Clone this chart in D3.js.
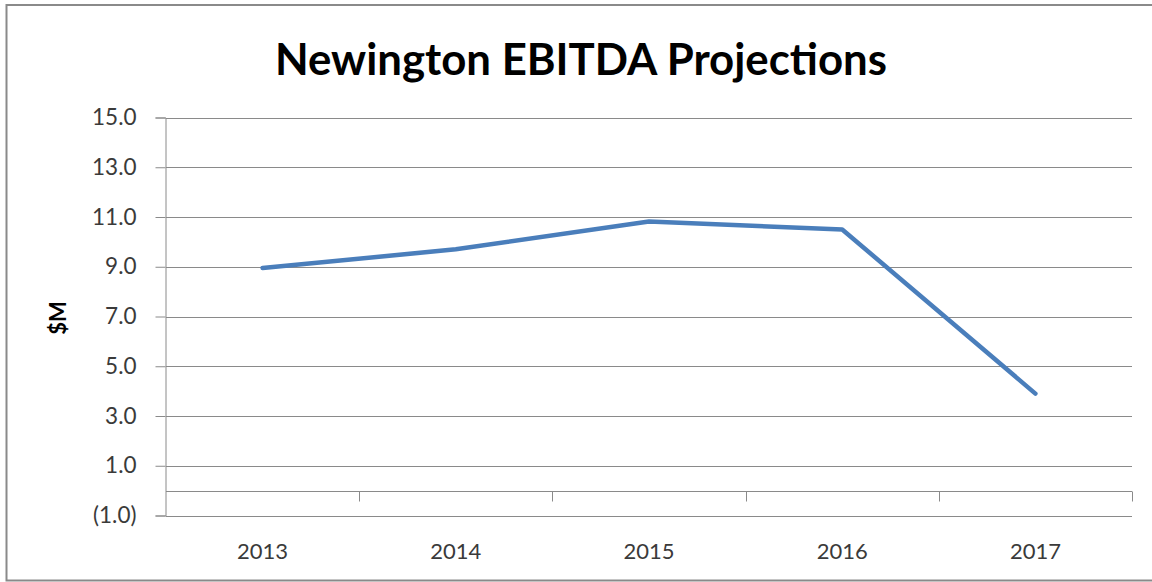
<!DOCTYPE html>
<meta charset="utf-8">
<script src="https://d3js.org/d3.v7.min.js"></script>
<style>
  body { margin: 0; background: #fff; }
  svg { display: block; }
</style>
<div id="chart"></div>
<script>

// data
var years = ["2013", "2014", "2015", "2016", "2017"];
var ebitda = [8.95, 9.7, 10.82, 10.5, 3.9];
var yTicks = [-1, 1, 3, 5, 7, 9, 11, 13, 15];
var title = "Newington EBITDA Projections";
var yLabel = "$M";

var W = 1152, H = 582;
// plot box (note: "top" is taken by window.top, so prefixed names)
var plotLeft = 166, plotRight = 1132, plotTop = 117.5, plotBottom = 515.5;

var svg = d3.select("#chart").append("svg")
    .attr("width", W)
    .attr("height", H);

// outer frame of the chart object
svg.append("rect")
    .attr("x", 6.5).attr("y", 5)
    .attr("width", 1160).attr("height", 575.5)
    .attr("fill", "#fff")
    .attr("stroke", "#8a8a8a")
    .attr("stroke-width", 2);

var x = d3.scaleBand().domain(years).range([plotLeft, plotRight]).padding(0);
var y = d3.scaleLinear().domain([-1, 15]).range([plotBottom, plotTop]);

var fmt = function(d) {
  return d < 0 ? "(" + d3.format(".1f")(-d) + ")" : d3.format(".1f")(d);
};

// gridlines
svg.append("g")
  .selectAll("line")
  .data(yTicks)
  .enter().append("line")
    .attr("x1", plotLeft).attr("x2", plotRight)
    .attr("y1", function(d) { return Math.round(y(d)) + 0.5; })
    .attr("y2", function(d) { return Math.round(y(d)) + 0.5; })
    .attr("stroke", "#8a8a8a")
    .attr("stroke-width", 1);

// left axis
var yAxis = svg.append("g")
    .attr("transform", "translate(" + (plotLeft - 0.5) + ",0)")
    .call(d3.axisLeft(y).tickValues(yTicks).tickFormat(fmt).tickSize(10).tickPadding(19).offset(0.5));
yAxis.select(".domain").attr("stroke", "#8a8a8a");
yAxis.selectAll(".tick line").attr("stroke", "#8a8a8a");
yAxis.selectAll(".tick text")
    .style("font", "22.5px Lato")
    .attr("fill", "#3a3a3a");

// category axis sits on zero
var y0 = Math.round(y(0)) + 0.5;
svg.append("line")
    .attr("x1", plotLeft).attr("x2", plotRight)
    .attr("y1", y0).attr("y2", y0)
    .attr("stroke", "#8a8a8a");

svg.append("g")
  .selectAll("line")
  .data(years)
  .enter().append("line")
    .attr("x1", function(d) { return Math.round(x(d) + x.bandwidth()) + 0.5; })
    .attr("x2", function(d) { return Math.round(x(d) + x.bandwidth()) + 0.5; })
    .attr("y1", y0).attr("y2", y0 + 10)
    .attr("stroke", "#8a8a8a");

svg.append("g")
  .selectAll("text")
  .data(years)
  .enter().append("text")
    .attr("x", function(d) { return x(d) + x.bandwidth() / 2; })
    .attr("y", 559)
    .attr("text-anchor", "middle")
    .style("font", "22px Lato")
    .attr("fill", "#3a3a3a")
    .text(function(d) { return d; });

// the line
var line = d3.line()
    .x(function(d, i) { return x(years[i]) + x.bandwidth() / 2; })
    .y(function(d) { return y(d); });

svg.append("path")
    .datum(ebitda)
    .attr("d", line)
    .attr("fill", "none")
    .attr("stroke", "#4a7ebb")
    .attr("stroke-width", 4.5)
    .attr("stroke-linejoin", "round")
    .attr("stroke-linecap", "round");

// title, sized to the width it has in the picture
var t = svg.append("text")
    .attr("x", 581)
    .attr("y", 75)
    .attr("text-anchor", "middle")
    .style("font", "bold 40px Lato")
    .attr("fill", "#000")
    .text(title);
var tw = t.node().getComputedTextLength();
t.style("font-size", (40 * 612 / tw) + "px");

// y axis label
svg.append("text")
    .attr("transform", "translate(66,318) rotate(-90)")
    .attr("text-anchor", "middle")
    .style("font", "bold 22px Lato")
    .attr("fill", "#000")
    .text(yLabel);

</script>
